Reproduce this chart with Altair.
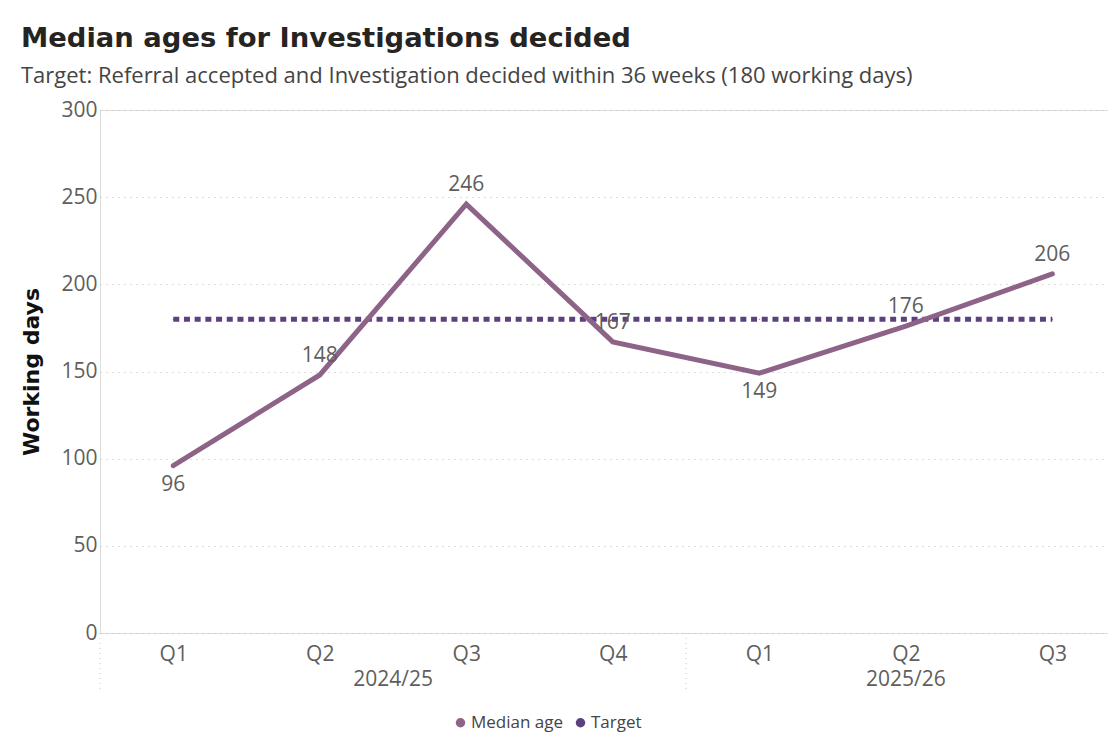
import json
import altair as alt
import pandas as pd

# ---------------- data ----------------
quarters = ["Q1", "Q2", "Q3", "Q4", "Q1", "Q2", "Q3"]
years = ["2024/25", "2024/25", "2024/25", "2024/25", "2025/26", "2025/26", "2025/26"]
median_age = [96, 148, 246, 167, 149, 176, 206]
target_days = [180, 180, 180, 180, 180, 180, 180]
labels_below = [0, 4]  # indices whose value label sits under the line

series_names = ["Median age", "Target"]
series_colors = ["#8E6388", "#5B4180"]
y_ticks = [0, 50, 100, 150, 200, 250, 300]

idx = list(range(len(quarters)))
wide = pd.DataFrame({"idx": idx, "quarter": quarters, "year": years})
long = pd.DataFrame({
    "idx": idx + idx,
    "series": [series_names[0]] * len(idx) + [series_names[1]] * len(idx),
    "value": median_age + target_days,
})

W, H = 1008, 523
FONT = "Open Sans"
BOLD = "DejaVu Sans"
GREY = "#605E5C"

color_scale = alt.Scale(domain=series_names, range=series_colors)
x_scale = alt.Scale(domain=[-0.5, 6.38], nice=False, zero=False)
y_scale = alt.Scale(domain=[0, 300], nice=False)

label_expr = json.dumps(quarters) + "[datum.value]"

x_enc = alt.X(
    "idx:Q", scale=x_scale,
    axis=alt.Axis(values=idx, labelExpr=label_expr, grid=False, domain=False,
                  ticks=False, labelFontSize=21, labelColor=GREY, labelFont=FONT,
                  labelPadding=10, title=None),
)
y_enc = alt.Y(
    "value:Q", scale=y_scale,
    axis=alt.Axis(values=y_ticks, grid=True, gridDash=[1, 5], gridColor="#BDBDBD",
                  domain=False, ticks=False, labelFontSize=21, labelColor=GREY,
                  labelFont=FONT, labelPadding=3, title="Working days",
                  titleFontSize=22, titleFont=BOLD, titleFontWeight="bold",
                  titleColor="#111111", titlePadding=17),
)

base = alt.Chart(long)

median_line = base.transform_filter(alt.datum.series == series_names[0]).mark_line(
    strokeWidth=5, strokeCap="round", color=series_colors[0]
).encode(x=x_enc, y=y_enc)

target_line = base.transform_filter(alt.datum.series == series_names[1]).mark_line(
    strokeWidth=5, strokeDash=[6, 4.7], color=series_colors[1]
).encode(x=x_enc, y=y_enc)

legend_pts = base.mark_point(filled=True, size=1, shape="circle", opacity=1).encode(
    x=x_enc, y=y_enc,
    color=alt.Color("series:N", scale=color_scale,
                    legend=alt.Legend(title=None, orient="none", direction="horizontal",
                                      legendX=352, legendY=604,
                                      symbolType="circle", symbolSize=90, symbolOpacity=1,
                                      labelFontSize=17, labelFont=FONT, labelColor="#444444",
                                      columnPadding=8, labelOffset=2)),
)

med = base.transform_filter(alt.datum.series == series_names[0])
labels_above = med.transform_filter(
    alt.FieldOneOfPredicate(field="idx", oneOf=[i for i in idx if i not in labels_below])
).mark_text(dy=-19, fontSize=21, color=GREY, font=FONT).encode(
    x=x_enc, y=y_enc, text="value:Q")
labels_under = med.transform_filter(
    alt.FieldOneOfPredicate(field="idx", oneOf=labels_below)
).mark_text(dy=19, fontSize=21, color=GREY, font=FONT).encode(
    x=x_enc, y=y_enc, text="value:Q")

year_labels = alt.Chart(wide).transform_aggregate(
    center="mean(idx)", groupby=["year"]
).mark_text(fontSize=21, color=GREY, font=FONT, baseline="middle").encode(
    x=alt.X("center:Q", scale=x_scale, title=None),
    y=alt.value(H + 47),
    text="year:N",
)

separators = alt.Chart(wide).transform_aggregate(
    start="min(idx)", groupby=["year"]
).transform_calculate(sep="datum.start - 0.5").mark_rule(
    strokeDash=[1, 4], color="#C8C8C8"
).encode(
    x=alt.X("sep:Q", scale=x_scale, title=None),
    y=alt.value(H),
    y2=alt.value(H + 60),
)

chart = alt.layer(
    separators, target_line, median_line, legend_pts, labels_above, labels_under, year_labels
).properties(
    width=W, height=H,
    padding={"left": 12, "top": 16, "right": 0, "bottom": 30},
    title=alt.Title(
        "Median ages for Investigations decided",
        subtitle="Target: Referral accepted and Investigation decided within 36 weeks (180 working days)",
        anchor="start", frame="bounds", font=BOLD, fontSize=27.4, fontWeight="bold",
        color="#252423", subtitleFont=FONT, subtitleFontSize=22, subtitleColor="#444444",
        subtitlePadding=14, offset=12,
    ),
).configure_view(stroke=None).configure(background="white")

chart.save("out.html", embed_options={"renderer": "svg", "actions": False})
